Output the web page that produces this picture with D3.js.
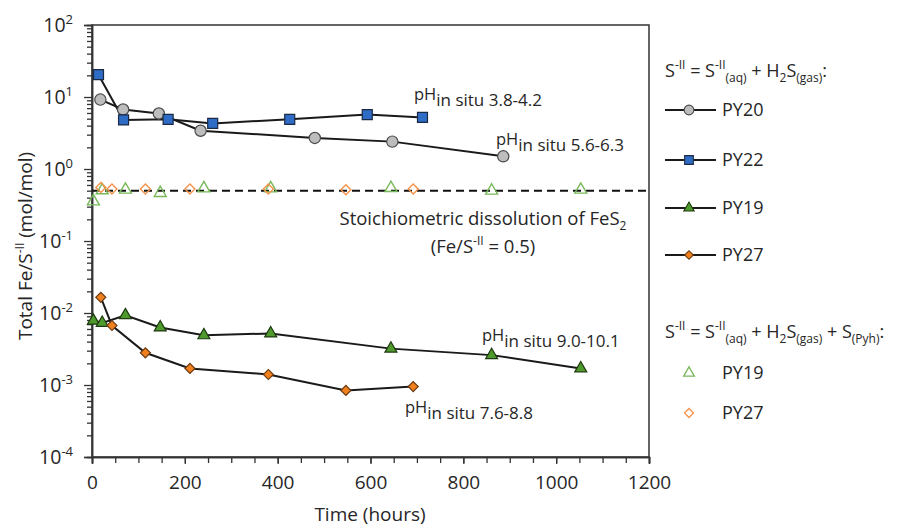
<!DOCTYPE html>
<html>
<head>
<meta charset="utf-8">
<script src="https://cdn.jsdelivr.net/npm/d3@7"></script>
<style>
  html, body { margin: 0; padding: 0; background: #fff; }
  svg { display: block; font-family: "Open Sans", sans-serif; }
  .tick text { font-family: "Open Sans", sans-serif; }
</style>
</head>
<body>
<svg id="chart" width="919" height="528"></svg>
<script>
// Fe / S(-II) molar ratios over time for four pyrrhotite/pyrite runs
const py20Time  = [18, 67, 144, 234, 480, 647, 886];
const py20Ratio = [9.2, 6.7, 5.9, 3.4, 2.7, 2.4, 1.5];

const py22Time  = [14, 68, 164, 260, 426, 593, 712];
const py22Ratio = [20.4, 4.8, 4.9, 4.3, 4.9, 5.7, 5.2];

const py19Time  = [3, 22, 72, 147, 241, 385, 644, 861, 1053];
const py19Ratio = [0.0078, 0.0073, 0.0093, 0.0063, 0.0049, 0.0052, 0.0032, 0.0026, 0.0017];

const py27Time  = [19, 43, 115, 211, 380, 547, 692];
const py27Ratio = [0.0165, 0.0067, 0.0028, 0.0017, 0.0014, 0.00084, 0.00095];

// ratios when the S(Pyh) pool is included in S(-II)
const py19PyhRatio = [0.355, 0.505, 0.516, 0.464, 0.538, 0.538, 0.545, 0.5, 0.516];
const py27PyhRatio = [0.555, 0.528, 0.528, 0.528, 0.528, 0.516, 0.528];

const stoichRatio = 0.5;

const xTicks = [0, 200, 400, 600, 800, 1000, 1200];
const xMinorTicks = d3.range(0, 1201, 50);
const yExponents = [-4, -3, -2, -1, 0, 1, 2];

const phRanges = ["3.8-4.2", "5.6-6.3", "9.0-10.1", "7.6-8.8"];

const svg = d3.select("#chart");
const M = { left: 92, top: 25, right: 270, bottom: 71 };
const W = 919 - M.left - M.right;
const H = 528 - M.top - M.bottom;
const g = svg.append("g").attr("transform", `translate(${M.left},${M.top})`);

const x = d3.scaleLinear().domain([0, 1200]).range([0, W]);
const y = d3.scaleLog().domain([1e-4, 1e2]).range([H, 0]);

const ink = "#262626";

// frame
g.append("rect").attr("width", W).attr("height", H)
  .attr("fill", "none").attr("stroke", "#333").attr("stroke-width", 1.5);

// x axis
const xMinor = g.append("g").attr("transform", `translate(0,${H})`)
  .call(d3.axisBottom(x).tickValues(xMinorTicks).tickSize(6).tickFormat(""));
const xAxis = g.append("g").attr("transform", `translate(0,${H})`)
  .call(d3.axisBottom(x).tickValues(xTicks).tickSize(7).tickPadding(12).tickFormat(d3.format("d")));
[xMinor, xAxis].forEach(a => {
  a.select(".domain").attr("stroke", "#333").attr("stroke-width", 1.5);
  a.selectAll(".tick line").attr("stroke", "#333").attr("stroke-width", 1.3);
});
xAxis.selectAll(".tick text").attr("font-size", 19).attr("fill", ink);

// y axis (log)
const minorVals = [];
for (let e = -4; e < 2; e++) for (let m = 2; m <= 9; m++) minorVals.push(m * Math.pow(10, e));
const yMinor = g.append("g")
  .call(d3.axisLeft(y).tickValues(minorVals).tickSize(5).tickFormat(""));
const yAxis = g.append("g")
  .call(d3.axisLeft(y).tickValues(yExponents.map(e => Math.pow(10, e))).tickSize(8).tickPadding(6).tickFormat(""));
[yMinor, yAxis].forEach(a => {
  a.select(".domain").attr("stroke", "#333").attr("stroke-width", 1.5);
  a.selectAll(".tick line").attr("stroke", "#333").attr("stroke-width", 1.3);
});
yAxis.selectAll(".tick").each(function(d) {
  const e = Math.round(Math.log10(d));
  const t = d3.select(this).append("text")
    .attr("x", -19).attr("y", 0).attr("dy", "0.32em")
    .attr("text-anchor", "end").attr("fill", ink).attr("font-size", 19.5);
  t.append("tspan").text("10");
  t.append("tspan").attr("font-size", 13).attr("dy", -8).text(String(e));
});

// rich text helper: segments of [text, "sup"|"sub"|undefined]
function rich(sel, segs, base, small) {
  let cur = 0;
  segs.forEach(([txt, kind]) => {
    const target = kind === "sup" ? -base * 0.42 : kind === "sub" ? base * 0.28 : 0;
    sel.append("tspan")
      .attr("dy", target - cur)
      .attr("font-size", kind ? small : base)
      .text(txt);
    cur = target;
  });
}

// stoichiometric line
g.append("line")
  .attr("x1", 0).attr("x2", W)
  .attr("y1", y(stoichRatio)).attr("y2", y(stoichRatio))
  .attr("stroke", "#111").attr("stroke-width", 2).attr("stroke-dasharray", "8,5");

const stoich = g.append("text").attr("x", 391).attr("y", 200)
  .attr("text-anchor", "middle").attr("fill", ink).attr("font-size", 18.5);
rich(stoich, [["Stoichiometric dissolution of FeS"], ["2", "sub"]], 18.5, 12);
const stoich2 = g.append("text").attr("x", 391).attr("y", 228)
  .attr("text-anchor", "middle").attr("fill", ink).attr("font-size", 18.5);
rich(stoich2, [["(Fe/S"], ["-II", "sup"], [" = 0.5)"]], 18.5, 12);

// series
const series = [
  { name: "PY20", t: py20Time, v: py20Ratio, shape: d3.symbolCircle, size: 100, fill: "#bdbdbd", stroke: "#4a4a4a", rot: 0 },
  { name: "PY22", t: py22Time, v: py22Ratio, shape: d3.symbolSquare, size: 100, fill: "#2f6cc6", stroke: "#1b2a44", rot: 0 },
  { name: "PY19", t: py19Time, v: py19Ratio, shape: d3.symbolTriangle, size: 62, fill: "#4f9a2c", stroke: "#1e3a10", rot: 0 },
  { name: "PY27", t: py27Time, v: py27Ratio, shape: d3.symbolSquare, size: 50, fill: "#f07f1e", stroke: "#6a3a12", rot: 45 }
];
const openSeries = [
  { name: "PY19", t: py19Time, v: py19PyhRatio, shape: d3.symbolTriangle, size: 62, stroke: "#78b95a", rot: 0 },
  { name: "PY27", t: py27Time, v: py27PyhRatio, shape: d3.symbolSquare, size: 50, stroke: "#f5924b", rot: 45 }
];

const line = d3.line().x(d => x(d[0])).y(d => y(d[1]));

openSeries.forEach(s => {
  g.append("g").selectAll("path").data(d3.zip(s.t, s.v)).join("path")
    .attr("d", d3.symbol(s.shape, s.size)())
    .attr("transform", d => `translate(${x(d[0])},${y(d[1])}) rotate(${s.rot})`)
    .attr("fill", "none").attr("stroke", s.stroke).attr("stroke-width", 1.4);
});

series.forEach(s => {
  const pts = d3.zip(s.t, s.v);
  g.append("path").datum(pts).attr("d", line)
    .attr("fill", "none").attr("stroke", "#1a1a1a").attr("stroke-width", 2);
});
series.forEach(s => {
  const pts = d3.zip(s.t, s.v);
  g.append("g").selectAll("path").data(pts).join("path")
    .attr("d", d3.symbol(s.shape, s.size)())
    .attr("transform", d => `translate(${x(d[0])},${y(d[1])}) rotate(${s.rot})`)
    .attr("fill", s.fill).attr("stroke", s.stroke).attr("stroke-width", 1.2);
});

// pH annotations
const phPos = [
  { x: 414, y: 106 }, { x: 496, y: 151 }, { x: 482, y: 347 }, { x: 405, y: 419 }
];
phRanges.forEach((r, i) => {
  const t = svg.append("text").attr("x", phPos[i].x).attr("y", phPos[i].y - 6)
    .attr("fill", ink).attr("font-size", 16.5);
  t.append("tspan").text("pH");
  t.append("tspan").attr("dy", 6).attr("font-size", 17).text("in situ " + r);
});

// axis titles
svg.append("text").attr("x", 370).attr("y", 521).attr("text-anchor", "middle")
  .attr("fill", ink).attr("font-size", 19).text("Time (hours)");
const yt = svg.append("text")
  .attr("transform", "translate(32,246) rotate(-90)")
  .attr("text-anchor", "middle").attr("fill", ink).attr("font-size", 19);
rich(yt, [["Total Fe/S"], ["-II", "sup"], [" (mol/mol)"]], 19, 12);

// legend: S(-II) = aqueous + gas
const lg = svg.append("g");
const h1 = lg.append("text").attr("x", 665).attr("y", 77).attr("fill", ink).attr("font-size", 18);
rich(h1, [["S"], ["-II", "sup"], [" = S"], ["-II", "sup"], ["(aq)", "sub"], [" + H"], ["2", "sub"], ["S"], ["(gas)", "sub"], [":"]], 18, 12);
const rowsY = [110, 160, 208, 255];
series.forEach((s, i) => {
  const ry = rowsY[i];
  lg.append("line").attr("x1", 665).attr("x2", 716).attr("y1", ry).attr("y2", ry)
    .attr("stroke", "#1a1a1a").attr("stroke-width", 2);
  lg.append("path").attr("d", d3.symbol(s.shape, s.size * 0.75)())
    .attr("transform", `translate(689,${ry}) rotate(${s.rot})`)
    .attr("fill", s.fill).attr("stroke", s.stroke).attr("stroke-width", 1.1);
  lg.append("text").attr("x", 722).attr("y", ry).attr("dy", "0.36em")
    .attr("fill", ink).attr("font-size", 18).text(s.name);
});

// legend: S(-II) including pyrrhotite S
const h2 = lg.append("text").attr("x", 665).attr("y", 338).attr("fill", ink).attr("font-size", 18);
rich(h2, [["S"], ["-II", "sup"], [" = S"], ["-II", "sup"], ["(aq)", "sub"], [" + H"], ["2", "sub"], ["S"], ["(gas)", "sub"], [" + S"], ["(Pyh)", "sub"], [":"]], 18, 12);
const openRowsY = [373, 413];
openSeries.forEach((s, i) => {
  const ry = openRowsY[i];
  lg.append("path").attr("d", d3.symbol(s.shape, s.size * 0.8)())
    .attr("transform", `translate(689,${ry}) rotate(${s.rot})`)
    .attr("fill", "none").attr("stroke", s.stroke).attr("stroke-width", 1.3);
  lg.append("text").attr("x", 722).attr("y", ry).attr("dy", "0.36em")
    .attr("fill", ink).attr("font-size", 18).text(s.name);
});
</script>
</body>
</html>
